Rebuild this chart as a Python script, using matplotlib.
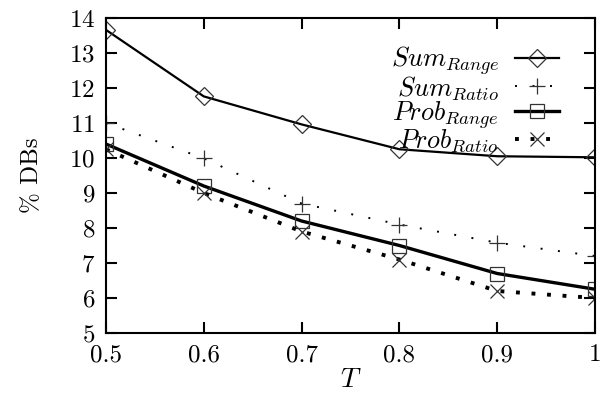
import matplotlib
matplotlib.use("Agg")
import matplotlib.pyplot as plt

plt.rcParams['font.family'] = 'serif'
plt.rcParams['font.serif'] = ['cmr10', 'DejaVu Serif']
plt.rcParams['mathtext.fontset'] = 'cm'
plt.rcParams['axes.formatter.use_mathtext'] = True

# values
t_values = [0.5, 0.6, 0.7, 0.8, 0.9, 1.0]
sum_range = [13.66, 11.76, 10.96, 10.25, 10.05, 10.02]
sum_ratio = [11.0, 9.99, 8.7, 8.1, 7.58, 7.2]
prob_range = [10.4, 9.2, 8.2, 7.5, 6.7, 6.25]
prob_ratio = [10.25, 9.0, 7.9, 7.1, 6.2, 6.0]

x_ticks = [0.5, 0.6, 0.7, 0.8, 0.9, 1.0]
x_tick_labels = ['0.5', '0.6', '0.7', '0.8', '0.9', '1']
y_ticks = list(range(5, 15))

fig = plt.figure(figsize=(6, 4.03), dpi=100)
ax = fig.add_axes([106 / 600, 1 - 333 / 403, 489 / 600, 315 / 403])

mk = dict(markersize=11, markerfacecolor='none', markeredgecolor='#333333', markeredgewidth=0.9)
ax.plot(t_values, sum_range, color='black', lw=1.6, marker='D', label=r'$Sum_{Range}$',
        **dict(mk, markersize=9))
ax.plot(t_values, sum_ratio, color='black', lw=1.4, ls=(0, (1, 8)), marker='+',
        label=r'$Sum_{Ratio}$', **mk)
ax.plot(t_values, prob_range, color='black', lw=2.4, marker='s', label=r'$Prob_{Range}$',
        **dict(mk, markersize=10.5))
ax.plot(t_values, prob_ratio, color='black', lw=2.8, ls=(0, (1, 3)), marker='x',
        label=r'$Prob_{Ratio}$', **dict(mk, markersize=10))

ax.set_xlim(0.5, 1.0)
ax.set_ylim(5, 14)
ax.set_xticks(x_ticks)
ax.set_xticklabels(x_tick_labels)
ax.set_yticks(y_ticks)
ax.tick_params(direction='in', length=8, width=1.5, top=True, right=True,
               labelsize=18, pad=8)
for s in ax.spines.values():
    s.set_linewidth(1.5)

ax.set_xlabel(r'$T$', fontsize=20, labelpad=0)
ax.set_ylabel('% DBs', fontsize=18, labelpad=18)

ax.legend(loc='upper right', bbox_to_anchor=(0.965, 0.975), frameon=False, markerfirst=False,
          fontsize=19, handlelength=1.7, labelspacing=-0.12, handletextpad=0.6,
          borderaxespad=0.3)

fig.savefig('out.png', dpi=100)
